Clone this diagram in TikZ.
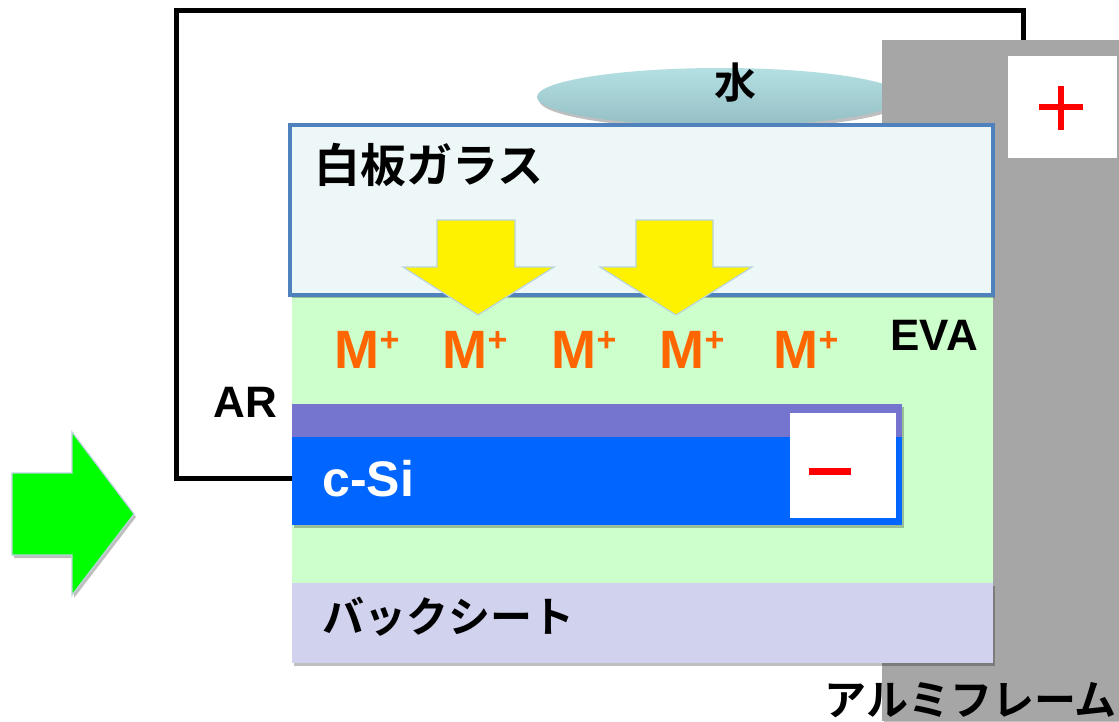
\documentclass[tikz,border=0pt]{standalone}
\usepackage{fontspec}
\setmainfont{Liberation Sans}
\newfontfamily\jp{Noto Sans CJK JP}[BoldFont={Noto Sans CJK JP Bold}]
\usetikzlibrary{shadows}
\definecolor{frameGrey}{HTML}{A6A6A6}
\definecolor{glassFill}{HTML}{EEF7F7}
\definecolor{glassLine}{HTML}{4F81BD}
\definecolor{evaGreen}{HTML}{CCFFCC}
\definecolor{arPurple}{HTML}{7575CF}
\definecolor{siBlue}{HTML}{0066FF}
\definecolor{backFill}{HTML}{D0D2EE}
\definecolor{ionOrange}{HTML}{FF6600}
\definecolor{waterTop}{HTML}{B4E0E4}
\definecolor{waterBot}{HTML}{94BEC3}
\definecolor{arrowEdge}{HTML}{B8D4DC}
\tikzset{
  shad/.style={drop shadow={shadow xshift=2pt,shadow yshift=-3pt,opacity=0.25,fill=black}},
  ion/.style={text=ionOrange,font=\bfseries\fontsize{54}{54}\selectfont,inner sep=0pt,anchor=base},
  lbl/.style={font=\bfseries\fontsize{44}{44}\selectfont,inner sep=0pt},
  jplbl/.style={font=\jp\bfseries\fontsize{42}{42}\selectfont,inner sep=0pt},
  yarrow/.style={fill=yellow,draw=arrowEdge,line width=1.2pt,line join=miter},
  whitebox/.style={fill=white,draw=none}
}
\begin{document}
\begin{tikzpicture}[x=1pt,y=-1pt]
\useasboundingbox (0,0) rectangle (1119,721);
% AR frame
\draw[line width=5pt,shad] (176,10) rectangle (1023,478);
\fill[white] (178.5,12.5) rectangle (1020.5,475.5);
% water
\shade[top color=waterTop,bottom color=waterBot,shad] (720,97) ellipse [x radius=183,y radius=29];
\node[font=\jp\bfseries\fontsize{42}{42}\selectfont,inner sep=0pt] (water) at (735,83) {水};
% aluminium frame
\fill[frameGrey,shad] (882,40) rectangle (1119,721);
\node[whitebox,minimum width=109pt,minimum height=102pt,inner sep=0pt] (plus) at (1062.5,107) {};
\fill[red] (1039,104) rectangle (1083,110);
\fill[red] (1058,86) rectangle (1064,130);
% EVA
\fill[evaGreen] (292,295) rectangle (993,583);
\node[lbl,anchor=base east] (eva) at (978,350) {EVA};
% glass
\draw[glassLine,fill=glassFill,line width=4.5pt,shad] (290,125) rectangle (993,295);
\node[jplbl,font=\jp\bfseries\fontsize{46}{46}\selectfont,anchor=west] (glass) at (314,165) {白板ガラス};
% yellow arrows
\draw[yarrow] (437,220) -- (515,220) -- (515,267) -- (554,267) -- (478,315) -- (403,267) -- (437,267) -- cycle;
\draw[yarrow] (636,220) -- (713,220) -- (713,267) -- (752,267) -- (676,315) -- (600,267) -- (636,267) -- cycle;
% ions
\foreach \i/\x in {1/367,2/475,3/584,4/692,5/806}
  \node[ion] (m\i) at (\x,368) {M\raisebox{0.3em}{\fontsize{34}{34}\selectfont+}};
% AR film and c-Si
\fill[arPurple,shad] (292,404) rectangle (902,437);
\fill[siBlue,shad] (292,437) rectangle (902,525);
\node[lbl,text=white,anchor=base west,font=\bfseries\fontsize{50}{50}\selectfont] (csi) at (322,496) {c-Si};
\node[whitebox,minimum width=106pt,minimum height=105pt,inner sep=0pt] (minus) at (843,465.5) {};
\fill[red] (809,468) rectangle (851,475);
\node[lbl,anchor=base east] (ar) at (277,417) {AR};
% back sheet
\fill[backFill,shad] (292,583) rectangle (993,663);
\node[jplbl,anchor=west] (back) at (322,617) {バックシート};
% frame label
\node[jplbl,anchor=east] (alu) at (1117,700) {アルミフレーム};
% green arrow
\draw[fill=green,draw=arrowEdge,line width=1.2pt,shad] (12,473) -- (72,473) -- (72,432) -- (134,514) -- (72,595) -- (72,555) -- (12,555) -- cycle;
\end{tikzpicture}
\end{document}
